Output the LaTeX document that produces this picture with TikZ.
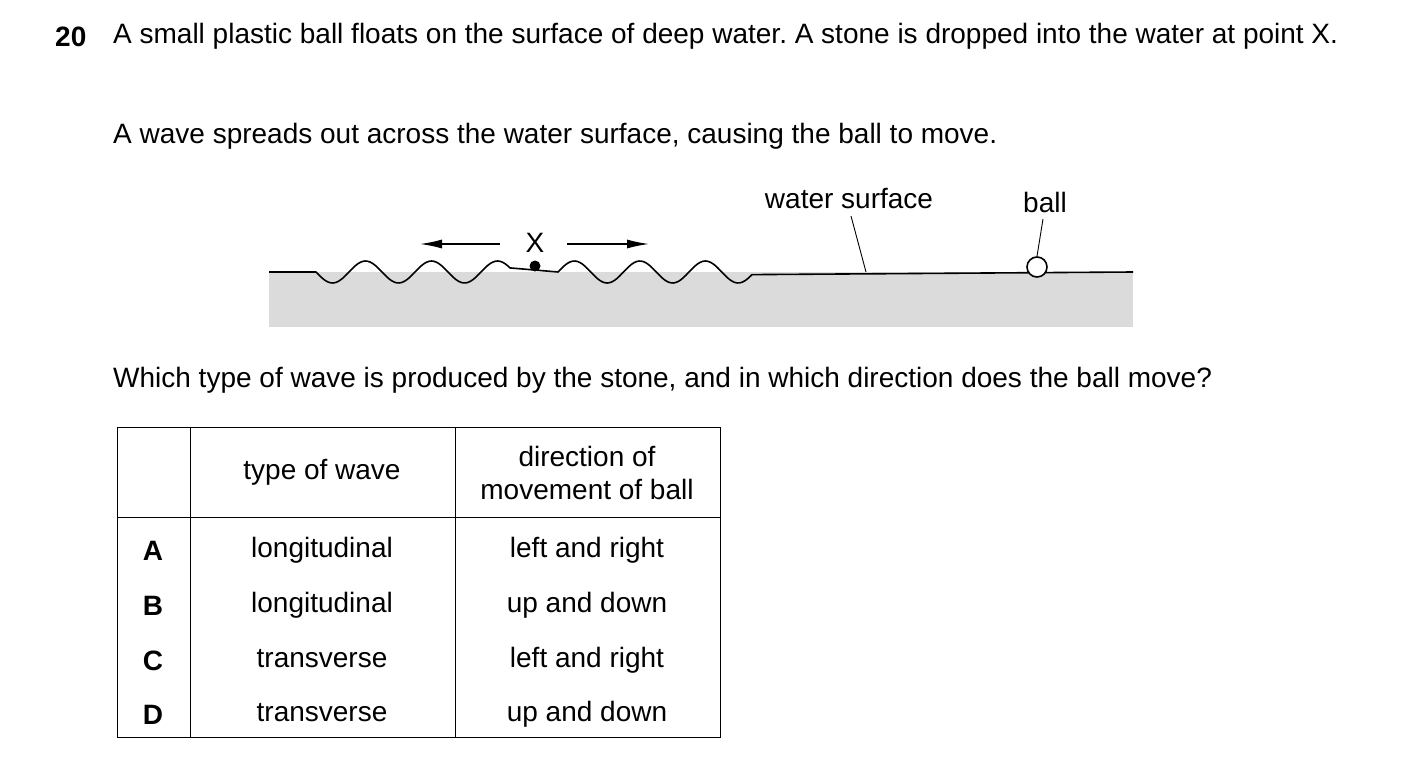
\documentclass[tikz,border=0pt]{standalone}
\usepackage{fontspec}
\setmainfont{Liberation Sans}
\usetikzlibrary{arrows.meta}
\tikzset{
    txt/.style={inner sep=0pt, font=\fontsize{28}{33}\selectfont\frenchspacing},
    letter/.style={txt, font=\fontsize{28}{33}\selectfont\bfseries},
    cell/.style={txt, align=center},
    leader/.style={line width=0.9pt},
    surface/.style={line width=1.6pt, line join=round},
    spread/.style={line width=1.4pt, -{Latex[length=22pt,width=9pt]}}
}
\begin{document}
\begin{tikzpicture}[x=1pt,y=-1pt]
  \useasboundingbox (0,0) rectangle (1403,784);
  % question text
  \node[letter, anchor=base west] (num) at (55,47) {20};
  \node[txt, anchor=north west, text width=1234pt, align=justify] (intro) at (113,23)
    {A small plastic ball floats on the surface of deep water. A stone is dropped into the water at point X.};
  \node[txt, anchor=base west] (spread) at (113,143) {A wave spreads out across the water surface, causing the ball to move.};
  % water
  \fill[gray!28] (269,272) rectangle (1133,327);
  \draw[surface] (269,272) -- (316,272)
    -- plot[domain=316:510, samples=80, smooth] (\x, {272+11*sin(5.4545*(\x-316))})
    -- (558,272)
    -- plot[domain=558:752, samples=80, smooth] (\x, {272-11*sin(5.496*(\x-558))})
    -- (1133,272);
  \fill (535,266) circle (5.5);
  \node[txt] (X) at (535,243) {X};
  \coordinate (lft) at (420,244);
  \coordinate (rgt) at (649,244);
  \draw[spread] (500,244) -- (lft);
  \draw[spread] (567,244) -- (rgt);
  \node[draw, circle, fill=white, line width=1.6pt, minimum size=20pt, inner sep=0pt] (ball) at (1037,267) {};
  \node[txt] (wslab) at (849,199) {water surface};
  \node[txt] (balllab) at (1045,202) {ball};
  \coordinate (ws) at (866,272);
  \draw[leader] (851,216) -- (ws);
  \draw[leader] (1043,219) -- (ball.north);
  \node[txt, anchor=base west] (ask) at (113,387) {Which type of wave is produced by the stone, and in which direction does the ball move?};
  % table
  \draw[line width=1pt] (117,427) rectangle (720,737);
  \draw[line width=1pt] (190,427) -- (190,737);
  \draw[line width=1pt] (455,427) -- (455,737);
  \draw[line width=1pt] (117,517) -- (720,517);
  \node[cell] (hwave) at (322,472) {type of wave};
  \node[cell] (hdir) at (587,473) {direction of\\[0pt]movement of ball};
  \foreach \l/\w/\d/\y in {A/longitudinal/left and right/551, B/longitudinal/up and down/606,
                           C/transverse/left and right/661, D/transverse/up and down/715}{
    \node[letter] (opt\l) at (153,\y) {\l};
    \node[cell] (wave\l) at (322,\y) {\strut\w};
    \node[cell] (dir\l) at (587,\y) {\strut\d};
  }
\end{tikzpicture}
\end{document}
